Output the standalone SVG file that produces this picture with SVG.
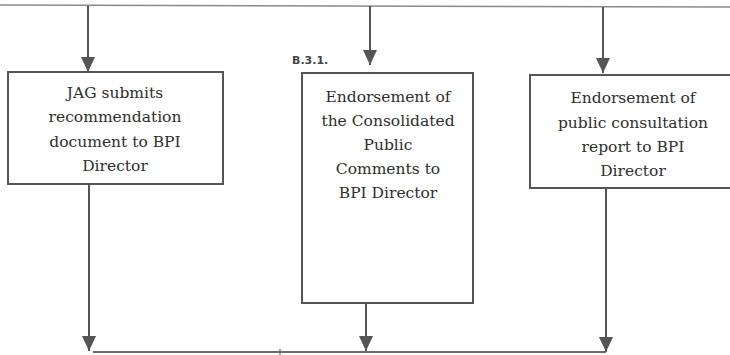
<svg xmlns="http://www.w3.org/2000/svg" width="730" height="355" viewBox="0 0 730 355">
<style>
.box{fill:#fff;stroke:#555;stroke-width:2}
.t{font-family:"DejaVu Serif","Liberation Serif",serif;font-size:15.5px;fill:#2e2e2e;text-anchor:middle}
.c{fill:none;stroke:#555;stroke-width:2}
.lbl{font-family:"DejaVu Sans","Liberation Sans",sans-serif;font-weight:bold;font-size:11px;fill:#444}
</style>
<defs>
<marker id="ah" markerUnits="userSpaceOnUse" markerWidth="14" markerHeight="16" viewBox="0 0 14 16" refX="15" refY="7" orient="auto">
<path d="M0,0 L15,7 L0,14 Z" fill="#555"/>
</marker>
</defs>
<rect width="730" height="355" fill="#fff"/>
<g id="connectors">
<path class="c" d="M0,5 L730,7" style="stroke:#8a8a8a;stroke-width:1.5"/>
<path class="c" d="M88,6 L88,72" marker-end="url(#ah)"/>
<path class="c" d="M370,6 L370,65" marker-end="url(#ah)"/>
<path class="c" d="M603,7 L603,73" marker-end="url(#ah)"/>
<path class="c" d="M89,184 L89,351" marker-end="url(#ah)"/>
<path class="c" d="M366,303 L366,351" marker-end="url(#ah)"/>
<path class="c" d="M606,188 L606,352" marker-end="url(#ah)"/>
<path class="c" d="M93,352 L606,352" style="stroke:#6a6a6a;stroke-width:2"/>
<path class="c" d="M280,349 L280,355" style="stroke:#6a6a6a;stroke-width:1.2"/>
</g>
<g id="node-jag">
<rect class="box" x="8" y="72" width="215" height="112"/>
<text class="t" x="115" y="98">JAG submits</text>
<text class="t" x="115" y="122">recommendation</text>
<text class="t" x="115" y="147">document to BPI</text>
<text class="t" x="115" y="171">Director</text>
</g>
<g id="node-b31">
<text class="lbl" x="292" y="64">B.3.1.</text>
<rect class="box" x="302" y="73" width="171" height="230"/>
<text class="t" x="388" y="102">Endorsement of</text>
<text class="t" x="388" y="126">the Consolidated</text>
<text class="t" x="388" y="150">Public</text>
<text class="t" x="388" y="174">Comments to</text>
<text class="t" x="388" y="198">BPI Director</text>
</g>
<g id="node-report">
<rect class="box" x="530" y="75" width="210" height="113"/>
<text class="t" x="633" y="103">Endorsement of</text>
<text class="t" x="633" y="128">public consultation</text>
<text class="t" x="633" y="152">report to BPI</text>
<text class="t" x="633" y="176">Director</text>
</g>
</svg>
